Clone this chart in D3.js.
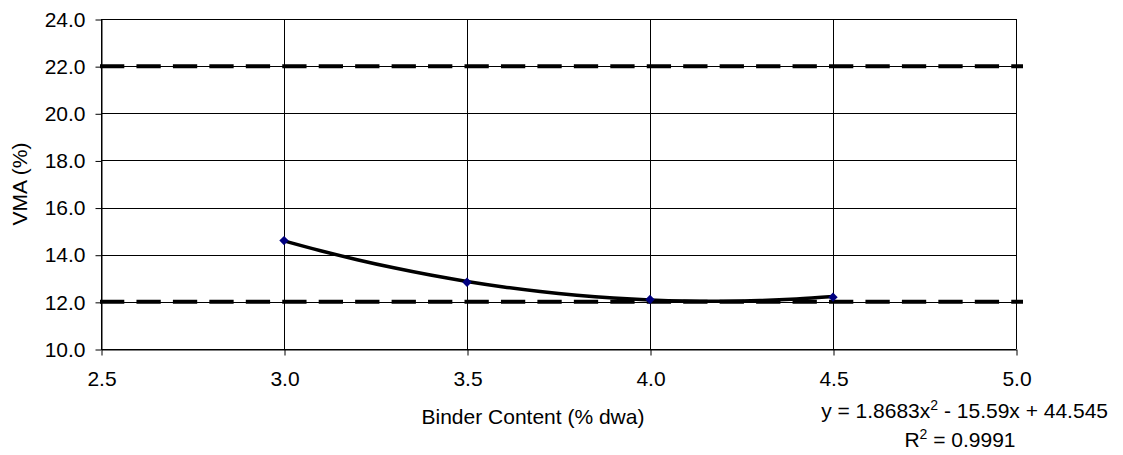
<!DOCTYPE html>
<html><head><meta charset="utf-8">
<script src="https://cdn.jsdelivr.net/npm/d3@7"></script>
<style>body{margin:0;background:#fff}svg{display:block}text{font-family:"Liberation Sans",Arial,sans-serif;fill:#000}</style>
</head><body><svg id="c" width="1123" height="455"></svg>
<script>
const binder = [3.0, 3.5, 4.0, 4.5];
const vma = [14.6, 12.83, 12.1, 12.2];
const limitValues = [22.0, 12.0];
const limitX = [2.5, 5.0];
const xTicks = [2.5, 3.0, 3.5, 4.0, 4.5, 5.0];
const yTicks = [10, 12, 14, 16, 18, 20, 22, 24];
const trendCoef = [1.8683, -15.59, 44.545];
const trendX = [3.0, 3.1, 3.2, 3.3, 3.4, 3.5, 3.6, 3.7, 3.8, 3.9, 4.0, 4.1, 4.2, 4.3, 4.4, 4.5];
const eqText = "y = 1.8683x";
const eqRest = " - 15.59x + 44.545";
const r2Value = "0.9991";

const svg = d3.select("#c");
const L = 101, R = 1016, T = 19, B = 349;
const x = d3.scaleLinear().domain([2.5, 5.0]).range([L, R]);
const y = d3.scaleLinear().domain([10, 24]).range([B, T]);
const fs = 21;

// gridlines
const g = svg.append("g").attr("shape-rendering", "crispEdges");
g.selectAll(".hg").data(yTicks).join("line")
  .attr("x1", L).attr("x2", R).attr("y1", d => Math.round(y(d)) + 0.5).attr("y2", d => Math.round(y(d)) + 0.5)
  .attr("stroke", "#000").attr("stroke-width", 1);
g.selectAll(".vg").data(xTicks).join("line")
  .attr("y1", T).attr("y2", B).attr("x1", d => Math.round(x(d)) + 0.5).attr("x2", d => Math.round(x(d)) + 0.5)
  .attr("stroke", "#000").attr("stroke-width", 1);

// axes
const yAxis = d3.axisLeft(y).tickValues(yTicks).tickFormat(d3.format(".1f")).tickSizeOuter(0).tickSizeInner(6).tickPadding(10);
const ya = svg.append("g").attr("transform", `translate(${L + 0.5},0.5)`).call(yAxis);
const xAxis = d3.axisBottom(x).tickValues(xTicks).tickFormat(d3.format(".1f")).tickSizeOuter(0).tickSizeInner(6).tickPadding(16);
const xa = svg.append("g").attr("transform", `translate(0.5,${B + 0.5})`).call(xAxis);
[ya, xa].forEach(a => {
  a.select(".domain").attr("stroke", "#000");
  a.selectAll(".tick line").attr("stroke", "#000");
  a.selectAll("text").attr("font-size", fs).attr("font-family", '"Liberation Sans",Arial,sans-serif').attr("fill", "#000");
});

// limit dashed lines
svg.append("g").selectAll("line").data(limitValues).join("line")
  .attr("x1", x(limitX[0]) - 1).attr("x2", x(limitX[1]) + 7)
  .attr("y1", d => y(d)).attr("y2", d => y(d))
  .attr("stroke", "#000").attr("stroke-width", 4).attr("stroke-dasharray", "24.3,12.15");

// trendline
const poly = v => trendCoef[0] * v * v + trendCoef[1] * v + trendCoef[2];
svg.append("path").datum(trendX)
  .attr("d", d3.line().x(d => x(d)).y(d => y(poly(d))).curve(d3.curveCatmullRom))
  .attr("fill", "none").attr("stroke", "#000").attr("stroke-width", 3.5);

// markers
svg.append("g").selectAll("path").data(binder.map((b, i) => [b, vma[i]])).join("path")
  .attr("d", d3.symbol().type(d3.symbolDiamond2).size(56))
  .attr("transform", d => `translate(${x(d[0])},${y(d[1])})`)
  .attr("fill", "#000080");

// axis titles
svg.append("text").attr("x", 533).attr("y", 424).attr("text-anchor", "middle").attr("font-size", fs)
  .text("Binder Content (% dwa)");
svg.append("text").attr("transform", `translate(27,${(T + B) / 2}) rotate(-90)`).attr("text-anchor", "middle").attr("font-size", fs)
  .text("VMA (%)");

// equation
const eq = svg.append("text").attr("x", 1108).attr("y", 418).attr("text-anchor", "end").attr("font-size", fs);
eq.append("tspan").text(eqText);
eq.append("tspan").attr("dy", -8).attr("font-size", 14).text("2");
eq.append("tspan").attr("dy", 8).text(eqRest);
const r2 = svg.append("text").attr("x", 960).attr("y", 447).attr("text-anchor", "middle").attr("font-size", fs);
r2.append("tspan").text("R");
r2.append("tspan").attr("dy", -8).attr("font-size", 14).text("2");
r2.append("tspan").attr("dy", 8).text(" = " + r2Value);
</script></body></html>
